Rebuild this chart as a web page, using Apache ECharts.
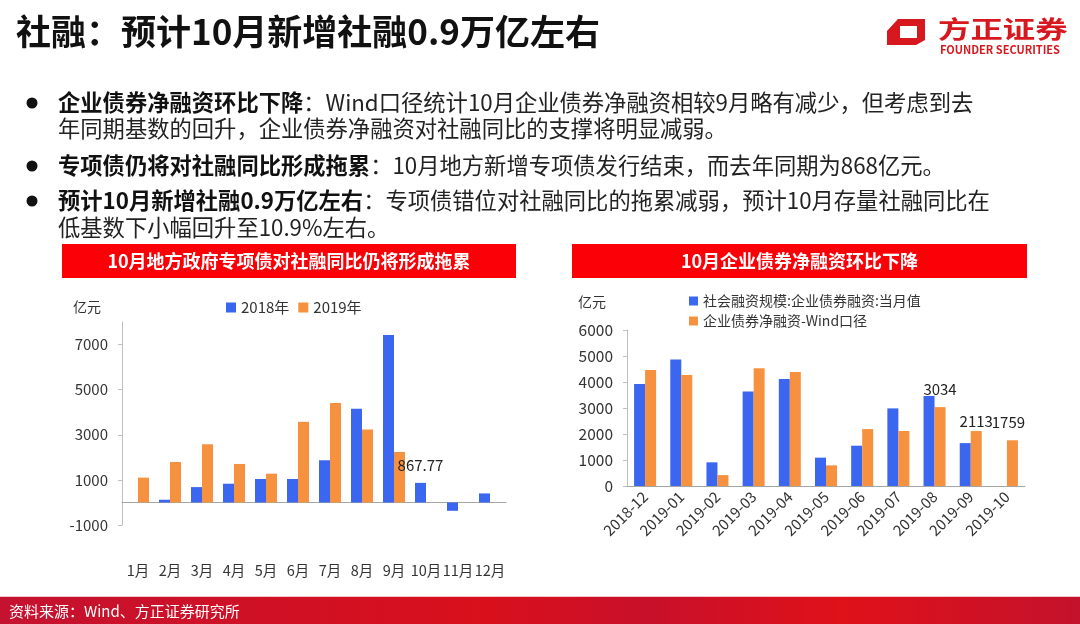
<!DOCTYPE html>
<html>
<head>
<meta charset="utf-8">
<script src="https://cdn.jsdelivr.net/npm/echarts@6/dist/echarts.min.js"></script>
<style>
  html, body { margin: 0; padding: 0; background: #fff; }
  #main { width: 1080px; height: 624px; }
</style>
</head>
<body>
<div id="main"></div>
<script>
// 左图：地方政府新增专项债（亿元）
const leftMonths = ['1月', '2月', '3月', '4月', '5月', '6月', '7月', '8月', '9月', '10月', '11月', '12月']
const special2018 = [0, 120, 680, 830, 1040, 1040, 1870, 4150, 7420, 867.77, -370, 400]
const special2019 = [1100, 1795, 2580, 1706, 1276, 3575, 4406, 3234, 2240, null, null, null]
const leftTicks = { min: -1000, max: 8000, interval: 2000 }
const leftLabelIdx = [9]

// 右图：企业债券融资（亿元）
const bondMonths = ['2018-12', '2019-01', '2019-02', '2019-03', '2019-04', '2019-05', '2019-06', '2019-07', '2019-08', '2019-09', '2019-10']
const bondTsf = [3920, 4870, 910, 3630, 4115, 1090, 1550, 2985, 3460, 1650, null]
const bondWind = [4460, 4270, 420, 4525, 4385, 795, 2190, 2115, 3034, 2113, 1759]
const rightTicks = { min: 0, max: 6000, interval: 1000 }
const rightLabelIdx = [8, 9, 10]

const FONT = '"Noto Sans CJK SC", "Noto Sans", sans-serif'
const BLUE = '#3a66f0'
const ORANGE = '#f6923f'
const RED = '#fb0007'

const withLabels = (arr, idx, extra) => arr.map((v, i) => {
  if (idx.indexOf(i) < 0) return v
  return { value: v, label: Object.assign({ show: true }, extra[i] || {}) }
})

const BODY = 22.3
const bullet = (y, bold, rest) => [
  { type: 'circle', shape: { cx: 32, cy: y, r: 5.5 }, style: { fill: '#111' } },
  {
    type: 'text', x: 58, y: y,
    style: {
      text: '{b|' + bold + '}{n|' + rest + '}', verticalAlign: 'middle',
      rich: {
        b: { fontFamily: FONT, fontSize: BODY, fontWeight: 'bold', fill: '#111' },
        n: { fontFamily: FONT, fontSize: BODY, fill: '#222' }
      }
    }
  }
]
const plainLine = (y, txt) => ({
  type: 'text', x: 58, y: y,
  style: { text: txt, fontFamily: FONT, fontSize: BODY, fill: '#222', verticalAlign: 'middle' }
})

const graphics = [
  // 标题
  { type: 'text', x: 16, y: 32, style: { text: '社融：预计10月新增社融0.9万亿左右', fontFamily: FONT, fontSize: 35, fontWeight: 'bold', fill: '#111', verticalAlign: 'middle' } },
  // logo
  { type: 'polygon', shape: { points: [[898, 19], [925, 19], [925, 40], [916, 45], [887, 45], [887, 31]] }, style: { fill: '#d7191f' } },
  { type: 'rect', shape: { x: 900, y: 26, width: 17, height: 12 }, style: { fill: '#fff' } },
  { type: 'text', x: 938, y: 17, scaleX: 1.35, style: { text: '方正证券', fontFamily: FONT, fontSize: 24, fontWeight: 'bold', fill: '#d7191f' } },
  { type: 'text', x: 940, y: 44, style: { text: 'FOUNDER SECURITIES', fontFamily: FONT, fontSize: 11, fontWeight: 'bold', fill: '#d7191f' } },
  // 要点
  ...bullet(103, '企业债券净融资环比下降', '：Wind口径统计10月企业债券净融资相较9月略有减少，但考虑到去'),
  plainLine(129, '年同期基数的回升，企业债券净融资对社融同比的支撑将明显减弱。'),
  ...bullet(166, '专项债仍将对社融同比形成拖累', '：10月地方新增专项债发行结束，而去年同期为868亿元。'),
  ...bullet(201, '预计10月新增社融0.9万亿左右', '：专项债错位对社融同比的拖累减弱，预计10月存量社融同比在'),
  plainLine(228, '低基数下小幅回升至10.9%左右。'),
  // 图标题
  { type: 'rect', shape: { x: 62, y: 244, width: 454, height: 34 }, style: { fill: RED } },
  { type: 'text', x: 289, y: 261, style: { text: '10月地方政府专项债对社融同比仍将形成拖累', fontFamily: FONT, fontSize: 18, fontWeight: 'bold', fill: '#fff', align: 'center', verticalAlign: 'middle' } },
  { type: 'rect', shape: { x: 572, y: 244, width: 455, height: 34 }, style: { fill: RED } },
  { type: 'text', x: 799.5, y: 261, style: { text: '10月企业债券净融资环比下降', fontFamily: FONT, fontSize: 18, fontWeight: 'bold', fill: '#fff', align: 'center', verticalAlign: 'middle' } },
  // 单位
  { type: 'text', x: 73, y: 307, style: { text: '亿元', fontFamily: FONT, fontSize: 14, fill: '#333', verticalAlign: 'middle' } },
  { type: 'text', x: 578, y: 302, style: { text: '亿元', fontFamily: FONT, fontSize: 14, fill: '#333', verticalAlign: 'middle' } },
  // 底部
  {
    type: 'rect', shape: { x: 0, y: 597, width: 1080, height: 27 },
    style: {
      fill: {
        type: 'linear', x: 0, y: 0, x2: 1, y2: 0,
        colorStops: [
          { offset: 0, color: '#c41230' }, { offset: 0.45, color: '#d9101c' },
          { offset: 0.6, color: '#c8102a' }, { offset: 0.78, color: '#df1119' },
          { offset: 1, color: '#c4122c' }
        ]
      }
    }
  },
  { type: 'rect', shape: { x: 0, y: 596, width: 1080, height: 1 }, style: { fill: '#f2c6cc' } },
  { type: 'text', x: 9, y: 611, style: { text: '资料来源：Wind、方正证券研究所', fontFamily: FONT, fontSize: 15, fill: '#fff', verticalAlign: 'middle' } }
]

const axisLabelStyle = { color: '#333', fontFamily: FONT }
const plainNum = v => String(v)

const option = {
  animation: false,
  textStyle: { fontFamily: FONT },
  graphic: graphics,
  legend: [
    {
      data: ['2018年', '2019年'], left: 221, top: 295,
      itemWidth: 10, itemHeight: 10, itemGap: 9, icon: 'rect',
      textStyle: { fontSize: 15, color: '#333', fontFamily: FONT }
    },
    {
      data: ['社会融资规模:企业债券融资:当月值', '企业债券净融资-Wind口径'], left: 684, top: 289,
      orient: 'vertical', itemWidth: 9, itemHeight: 9, itemGap: 6, icon: 'rect',
      textStyle: { fontSize: 14, color: '#333', fontFamily: FONT }
    }
  ],
  grid: [
    { left: 122, top: 322, width: 384, height: 203 },
    { left: 627, top: 330, width: 398, height: 156 }
  ],
  xAxis: [
    {
      gridIndex: 0, type: 'category', data: leftMonths,
      axisLine: { onZero: true, lineStyle: { color: '#a6a6a6' } },
      axisTick: { length: 5, lineStyle: { color: '#a6a6a6' } },
      axisLabel: Object.assign({ fontSize: 14.5, margin: 38, interval: 0 }, axisLabelStyle)
    },
    {
      gridIndex: 1, type: 'category', data: bondMonths,
      axisLine: { lineStyle: { color: '#a6a6a6' } },
      axisTick: { length: 5, lineStyle: { color: '#a6a6a6' } },
      axisLabel: Object.assign({ fontSize: 15, rotate: 45, margin: 8, interval: 0 }, axisLabelStyle)
    }
  ],
  yAxis: [
    {
      gridIndex: 0, type: 'value', min: leftTicks.min, max: leftTicks.max, interval: leftTicks.interval,
      axisLine: { show: true, lineStyle: { color: '#bfbfbf' } },
      axisTick: { show: true, length: 4, lineStyle: { color: '#bfbfbf' } },
      splitLine: { show: false },
      axisLabel: Object.assign({ fontSize: 15, margin: 14, showMaxLabel: false, formatter: plainNum }, axisLabelStyle)
    },
    {
      gridIndex: 1, type: 'value', min: rightTicks.min, max: rightTicks.max, interval: rightTicks.interval,
      axisLine: { show: true, lineStyle: { color: '#bfbfbf' } },
      axisTick: { show: true, length: 4, lineStyle: { color: '#bfbfbf' } },
      splitLine: { show: false },
      axisLabel: Object.assign({ fontSize: 15.5, margin: 14, formatter: plainNum }, axisLabelStyle)
    }
  ],
  series: [
    {
      name: '2018年', type: 'bar', xAxisIndex: 0, yAxisIndex: 0, barWidth: 11, barGap: '0%',
      itemStyle: { color: BLUE },
      label: { show: false, position: 'top', distance: 10, fontSize: 15, color: '#222' },
      data: withLabels(special2018, leftLabelIdx, {})
    },
    {
      name: '2019年', type: 'bar', xAxisIndex: 0, yAxisIndex: 0, barWidth: 11, barGap: '0%',
      itemStyle: { color: ORANGE },
      data: special2019
    },
    {
      name: '社会融资规模:企业债券融资:当月值', type: 'bar', xAxisIndex: 1, yAxisIndex: 1, barWidth: 11, barGap: '0%',
      itemStyle: { color: BLUE },
      data: bondTsf
    },
    {
      name: '企业债券净融资-Wind口径', type: 'bar', xAxisIndex: 1, yAxisIndex: 1, barWidth: 11, barGap: '0%',
      itemStyle: { color: ORANGE },
      label: { show: false, position: 'top', distance: 10, fontSize: 15, color: '#222' },
      data: withLabels(bondWind, rightLabelIdx, { 9: { distance: 2 }, 10: { offset: [-4, 0] } })
    }
  ]
}

const chart = echarts.init(document.getElementById('main'), null, { renderer: 'canvas' })
chart.setOption(option)
</script>
</body>
</html>
